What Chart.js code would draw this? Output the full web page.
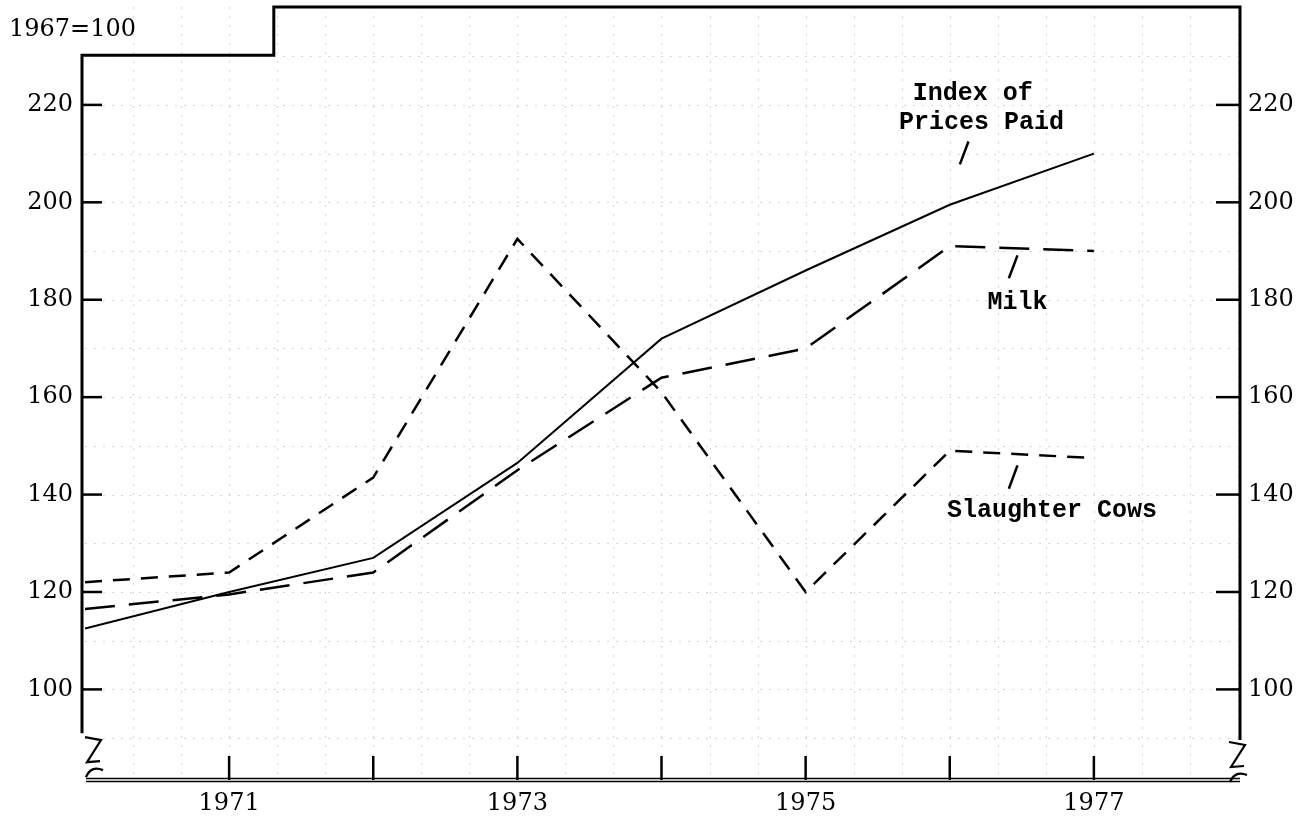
<!DOCTYPE html>
<html>
<head>
<meta charset="utf-8">
<script src="https://cdn.jsdelivr.net/npm/chart.js@4.4.1/dist/chart.umd.min.js"></script>
<style>
  html, body { margin: 0; padding: 0; background: #fff; }
  canvas { display: block; }
</style>
</head>
<body>
<canvas id="c" width="1307" height="818"></canvas>
<script>
// ---- data ----
const years = [1970, 1971, 1972, 1973, 1974, 1975, 1976, 1977];
const pricesPaid = [112.5, 120, 127, 146.5, 172, 186, 199.5, 210];
const milk = [116.5, 119.5, 124, 145, 164, 170, 191, 190];
const slaughterCows = [122, 124, 143.5, 192.5, 161, 120, 149, 147.5];
const yTickValues = [100, 120, 140, 160, 180, 200, 220];
const xTickValues = [1971, 1972, 1973, 1974, 1975, 1976, 1977];
const xLabelYears = [1971, 1973, 1975, 1977];
const unitLabel = '1967=100';
const annotations = [
  { text: 'Index of', x: 1976.16, y: 222.4 },
  { text: 'Prices Paid', x: 1976.22, y: 216.4 },
  { text: 'Milk', x: 1976.47, y: 179.3 },
  { text: 'Slaughter Cows', x: 1976.71, y: 136.7 }
];
const pointers = [
  [1976.13, 212.5, 1976.07, 207.8],
  [1976.47, 189.1, 1976.41, 184.4],
  [1976.47, 146.0, 1976.41, 141.2]
];

const serif = '"DejaVu Serif", serif';
const mono = '"Liberation Mono", "DejaVu Sans Mono", monospace';

function pts(arr) { return years.map((y, i) => ({ x: y, y: arr[i] })); }
function noPad(s) { s.paddingTop = 0; s.paddingBottom = 0; s.paddingLeft = 0; s.paddingRight = 0; }

const bgPlugin = {
  id: 'bg',
  beforeDraw(chart) {
    const ctx = chart.ctx;
    ctx.save();
    ctx.fillStyle = '#fff';
    ctx.fillRect(0, 0, chart.width, chart.height);
    ctx.restore();
  },
  beforeDatasetsDraw(chart) {
    // faint graph-paper dotted grid
    const { ctx, chartArea: a, scales: { x, y } } = chart;
    ctx.save();
    ctx.strokeStyle = '#d6d6d6';
    ctx.lineWidth = 1;
    ctx.setLineDash([2, 7]);
    for (let v = 90; v <= 230; v += 10) {
      const py = Math.round(y.getPixelForValue(v)) + 0.5;
      ctx.beginPath(); ctx.moveTo(a.left, py); ctx.lineTo(a.right, py); ctx.stroke();
    }
    for (let v = 1970 + 1 / 3; v < 1978; v += 1 / 3) {
      const px = Math.round(x.getPixelForValue(v)) + 0.5;
      ctx.beginPath(); ctx.moveTo(px, a.top); ctx.lineTo(px, a.bottom - 4); ctx.stroke();
    }
    ctx.restore();
  }
};

const framePlugin = {
  id: 'frame',
  afterDraw(chart) {
    const { ctx, chartArea: a, scales: { x, y } } = chart;
    ctx.save();
    ctx.strokeStyle = '#000';
    ctx.fillStyle = '#000';
    ctx.setLineDash([]);
    const L = a.left - 3, R = a.right + 2, T = a.top, B = a.bottom;
    const stepY = y.getPixelForValue(230.2);
    const stepX = x.getPixelForValue(1971.31);
    // top frame with step
    ctx.lineWidth = 3;
    ctx.beginPath();
    ctx.moveTo(L, y.getPixelForValue(91));
    ctx.lineTo(L, stepY);
    ctx.lineTo(stepX, stepY);
    ctx.lineTo(stepX, T);
    ctx.lineTo(R, T);
    ctx.lineTo(R, y.getPixelForValue(89.6));
    ctx.stroke();
    // bottom double axis
    ctx.lineWidth = 1.5;
    ctx.beginPath();
    ctx.moveTo(a.left + 1, B - 1.5); ctx.lineTo(R, B - 1.5);
    ctx.moveTo(a.left + 1, B + 1.5); ctx.lineTo(R, B + 1.5);
    ctx.stroke();
    // y ticks (inward)
    ctx.lineWidth = 2.5;
    yTickValues.forEach(v => {
      const py = y.getPixelForValue(v);
      ctx.beginPath(); ctx.moveTo(L, py); ctx.lineTo(L + 20, py); ctx.stroke();
      ctx.beginPath(); ctx.moveTo(R - 24, py); ctx.lineTo(R, py); ctx.stroke();
    });
    // x ticks (upward)
    xTickValues.forEach(v => {
      const px = x.getPixelForValue(v);
      ctx.beginPath(); ctx.moveTo(px, B); ctx.lineTo(px, B - 24); ctx.stroke();
    });
    // break marks
    ctx.lineWidth = 2.2;
    function brk(bx, topY) {
      ctx.beginPath();
      ctx.moveTo(bx, topY);
      ctx.lineTo(bx + 16, topY + 3);
      ctx.lineTo(bx + 2, topY + 25);
      ctx.lineTo(bx + 15, topY + 24);
      ctx.stroke();
      ctx.beginPath();
      ctx.moveTo(bx + 1, topY + 40);
      ctx.quadraticCurveTo(bx + 6, topY + 28, bx + 18, topY + 33);
      ctx.stroke();
    }
    brk(L + 3, y.getPixelForValue(90.2));
    brk(R - 11, y.getPixelForValue(89.2));
    // unit label
    ctx.font = '24px ' + serif;
    ctx.textAlign = 'left';
    ctx.textBaseline = 'middle';
    ctx.fillText(unitLabel, 9, y.getPixelForValue(235.4));
    // annotations
    ctx.font = 'bold 25px ' + mono;
    ctx.textAlign = 'center';
    annotations.forEach(t => {
      ctx.fillText(t.text, x.getPixelForValue(t.x), y.getPixelForValue(t.y));
    });
    ctx.lineWidth = 2.5;
    pointers.forEach(p => {
      ctx.beginPath();
      ctx.moveTo(x.getPixelForValue(p[0]), y.getPixelForValue(p[1]));
      ctx.lineTo(x.getPixelForValue(p[2]), y.getPixelForValue(p[3]));
      ctx.stroke();
    });
    ctx.restore();
  }
};

new Chart(document.getElementById('c'), {
  type: 'line',
  data: {
    datasets: [
      { label: 'Index of Prices Paid', data: pts(pricesPaid), borderColor: '#000', borderWidth: 2, borderDash: [] },
      { label: 'Milk', data: pts(milk), borderColor: '#000', borderWidth: 2.5, borderDash: [30, 14] },
      { label: 'Slaughter Cows', data: pts(slaughterCows), borderColor: '#000', borderWidth: 2.5, borderDash: [17, 11] }
    ]
  },
  options: {
    responsive: false,
    animation: false,
    devicePixelRatio: 1,
    layout: { padding: { top: 7, left: 0, right: 0, bottom: 0 } },
    elements: { point: { radius: 0 }, line: { tension: 0 } },
    plugins: { legend: { display: false }, tooltip: { enabled: false } },
    scales: {
      x: {
        type: 'linear', min: 1970, max: 1978,
        grid: { display: false, drawTicks: false }, border: { display: false },
        afterBuildTicks: s => { s.ticks = xLabelYears.map(v => ({ value: v })); },
        afterFit: s => { s.height = 38; noPad(s); },
        ticks: { color: '#000', font: { family: serif, size: 24 }, padding: 9, maxRotation: 0, autoSkip: false, callback: v => String(v) }
      },
      y: {
        position: 'left', min: 81.4, max: 240.1,
        grid: { display: false, drawTicks: false }, border: { display: false },
        afterBuildTicks: s => { s.ticks = yTickValues.map(v => ({ value: v })); },
        afterFit: s => { s.width = 85; noPad(s); },
        ticks: { color: '#000', font: { family: serif, size: 24 }, padding: 12, callback: v => String(v) }
      },
      y2: {
        position: 'right', min: 81.4, max: 240.1,
        grid: { display: false, drawTicks: false }, border: { display: false },
        afterBuildTicks: s => { s.ticks = yTickValues.map(v => ({ value: v })); },
        afterFit: s => { s.width = 69; noPad(s); },
        ticks: { color: '#000', font: { family: serif, size: 24 }, padding: 10, callback: v => String(v) }
      }
    }
  },
  plugins: [bgPlugin, framePlugin]
});
</script>
</body>
</html>
